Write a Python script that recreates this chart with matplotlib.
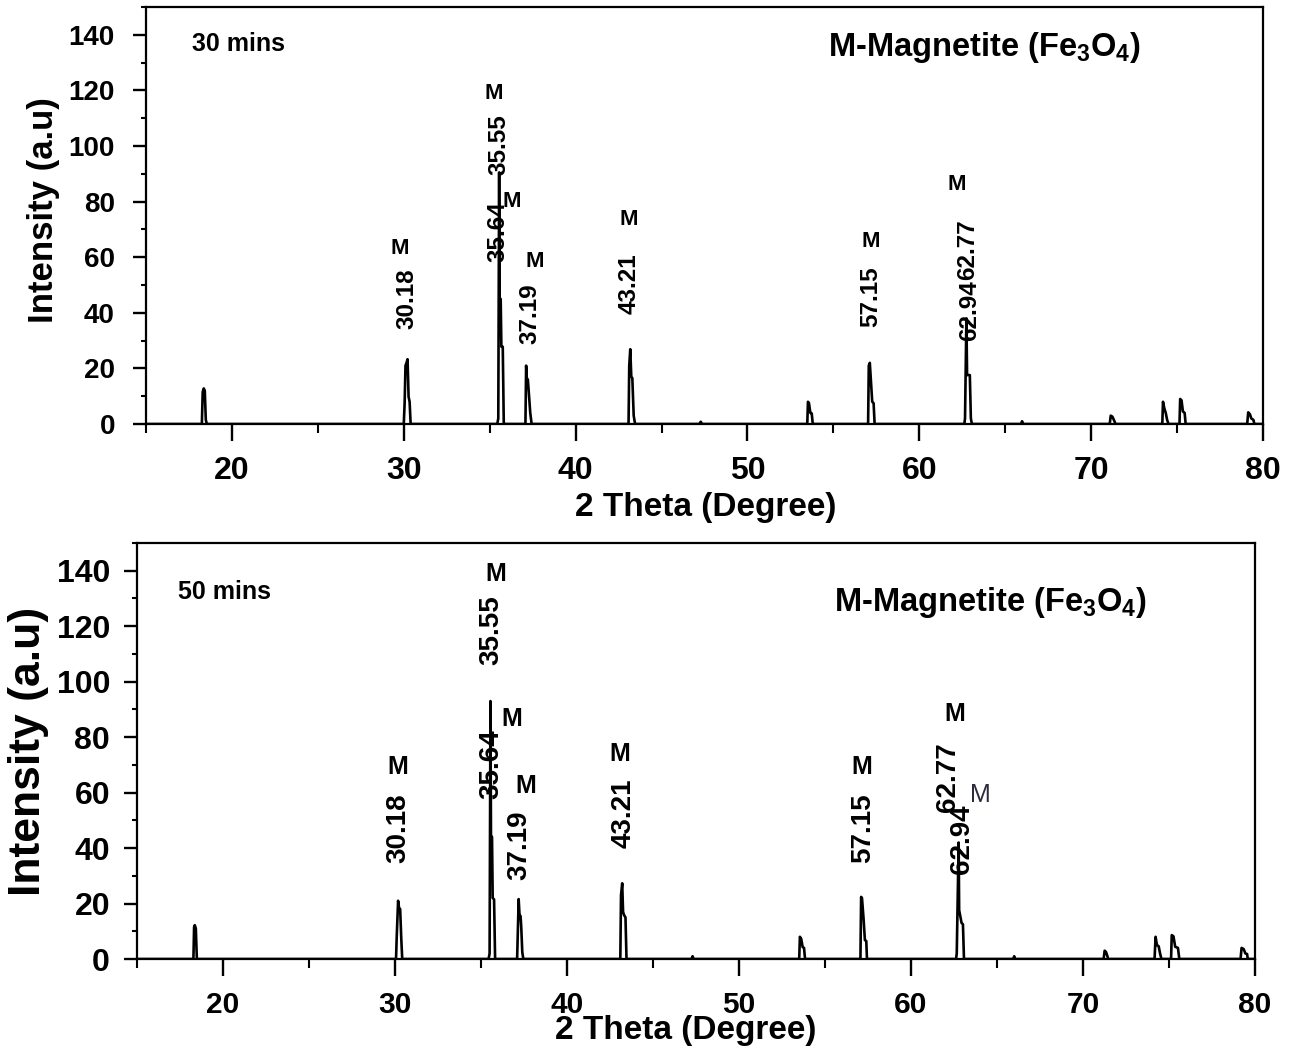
import matplotlib
matplotlib.use("Agg")
import matplotlib.pyplot as plt
from matplotlib.ticker import MultipleLocator

plt.rcParams["mathtext.fontset"] = "custom"
plt.rcParams["mathtext.rm"] = "Liberation Sans:bold"
plt.rcParams["mathtext.it"] = "Liberation Sans:bold"
plt.rcParams["mathtext.bf"] = "Liberation Sans:bold"

FONT = ["Liberation Sans", "DejaVu Sans"]

# XRD profile, 30 min sample (2 theta in degree, intensity in a.u.)
two_theta_30 = [15.00,
                18.25, 18.30, 18.36, 18.42, 18.48, 18.54,
                30.00, 30.05, 30.10, 30.16, 30.22, 30.28, 30.34, 30.40,
                35.44, 35.50, 35.55, 35.58, 35.64, 35.68, 35.76, 35.82,
                37.08, 37.12, 37.16, 37.22, 37.28, 37.36, 37.44,
                43.08, 43.12, 43.18, 43.24, 43.30, 43.38, 43.46,
                47.20, 47.28, 47.36,
                53.48, 53.52, 53.58, 53.66, 53.74, 53.80,
                57.02, 57.06, 57.12, 57.20, 57.26, 57.34, 57.40,
                62.62, 62.66, 62.74, 62.78, 62.94, 63.00, 63.06,
                65.92, 65.98, 66.04,
                71.08, 71.14, 71.24, 71.34, 71.42,
                74.14, 74.18, 74.26, 74.34, 74.42, 74.50,
                75.14, 75.18, 75.26, 75.34, 75.44, 75.50,
                79.08, 79.14, 79.24, 79.32, 79.44, 79.50,
                80.00]
intensity_30 = [0,
                0, 11.5, 12.8, 12.0, 1.5, 0,
                0, 7.5, 21.0, 22.0, 23.3, 9.8, 8.0, 0,
                0, 2.0, 90.5, 45.0, 45.0, 27.8, 27.8, 0,
                0, 21.0, 16.4, 16.0, 11.0, 4.0, 0,
                0, 21.0, 26.9, 17.0, 16.5, 3.0, 0,
                0, 0.8, 0,
                0, 8.0, 7.5, 4.0, 3.8, 0,
                0, 21.0, 22.0, 14.0, 8.0, 7.5, 0,
                0, 2.0, 38.0, 17.6, 17.6, 2.0, 0,
                0, 1.0, 0,
                0, 3.0, 2.6, 1.2, 0,
                0, 8.0, 5.6, 4.0, 1.5, 0,
                0, 9.0, 8.5, 4.5, 4.0, 0,
                0, 4.2, 3.5, 2.0, 1.5, 0,
                0]

# XRD profile, 50 min sample
two_theta_50 = [15.00,
                18.28, 18.32, 18.36, 18.42, 18.48,
                30.06, 30.10, 30.18, 30.24, 30.30, 30.36, 30.42,
                35.44, 35.50, 35.55, 35.58, 35.64, 35.68, 35.76, 35.82,
                37.10, 37.19, 37.24, 37.30, 37.34, 37.40, 37.46,
                43.10, 43.14, 43.21, 43.26, 43.32, 43.40, 43.46,
                47.24, 47.30, 47.36,
                53.50, 53.54, 53.62, 53.70, 53.78, 53.84,
                57.06, 57.10, 57.15, 57.24, 57.32, 57.40, 57.44,
                62.62, 62.66, 62.77, 62.80, 62.94, 63.02, 63.08,
                65.94, 66.00, 66.06,
                71.20, 71.26, 71.34, 71.42, 71.46,
                74.16, 74.22, 74.30, 74.40, 74.48, 74.56,
                75.12, 75.16, 75.26, 75.36, 75.52, 75.60,
                79.16, 79.22, 79.34, 79.44, 79.54, 79.58,
                80.00]
intensity_50 = [0,
                0, 11.6, 12.2, 11.0, 0,
                0, 8.0, 21.0, 18.3, 18.0, 8.0, 0,
                0, 2.0, 93.0, 44.6, 44.0, 22.0, 21.5, 0,
                0, 21.6, 15.8, 15.5, 11.5, 2.5, 0,
                0, 23.0, 27.3, 17.0, 15.8, 15.0, 0,
                0, 1.0, 0,
                0, 8.0, 7.2, 4.3, 4.0, 0,
                0, 22.4, 22.0, 14.7, 6.8, 6.5, 0,
                0, 2.0, 42.0, 17.6, 13.0, 12.5, 0,
                0, 1.0, 0,
                0, 3.0, 2.5, 1.0, 0,
                0, 8.0, 5.0, 4.6, 2.0, 0,
                0, 8.6, 8.2, 4.4, 4.0, 0,
                0, 4.0, 3.6, 2.0, 1.8, 0,
                0]

peak_labels = ["30.18", "35.55", "35.64", "37.19", "43.21", "57.15", "62.77", "62.94"]

# where the rotated peak values and the "M" markers sit, per panel
num_x_30 = [30.20, 35.56, 35.51, 37.32, 43.10, 57.20, 62.80, 62.95]
num_y_30 = [45.0, 100.4, 69.2, 39.6, 50.4, 45.7, 62.6, 40.8]
m_x_30 = [29.79, 35.24, 36.28, 37.63, 43.10, 57.18, 62.19]
m_y_30 = [63.3, 119.0, 80.0, 58.4, 73.4, 65.6, 86.0]

num_x_50 = [30.19, 35.62, 35.62, 37.25, 43.28, 57.22, 62.15, 62.96]
num_y_50 = [47.1, 118.6, 70.2, 41.0, 52.5, 47.1, 65.5, 43.2]
m_x_50 = [30.16, 35.83, 36.77, 37.60, 43.08, 57.13, 62.53]
m_y_50 = [69.2, 139.0, 86.6, 62.3, 74.0, 69.2, 88.4]


def style_axes(ax, xtick_size, ytick_size, ypad):
    ax.set_xlim(15, 80)
    ax.set_ylim(0, 150)
    ax.set_xticks([20, 30, 40, 50, 60, 70, 80])
    ax.set_yticks([0, 20, 40, 60, 80, 100, 120, 140])
    ax.xaxis.set_minor_locator(MultipleLocator(5))
    ax.yaxis.set_minor_locator(MultipleLocator(10))
    for s in ax.spines.values():
        s.set_linewidth(1.6)
    ax.tick_params(axis="x", which="major", direction="out", length=12, width=1.7, pad=11)
    ax.tick_params(axis="x", which="minor", direction="out", length=6.5, width=1.5)
    ax.tick_params(axis="y", which="major", direction="out", length=9.4, width=1.7, pad=ypad)
    ax.tick_params(axis="y", which="minor", direction="out", length=3.6, width=1.5)
    for lbl in ax.get_xticklabels():
        lbl.set_fontfamily(FONT)
        lbl.set_fontweight("bold")
        lbl.set_fontsize(xtick_size)
    for lbl in ax.get_yticklabels():
        lbl.set_fontfamily(FONT)
        lbl.set_fontweight("bold")
        lbl.set_fontsize(ytick_size)


def draw_panel(ax, x, y, time_label, nx, ny, mx, my, num_size, m_size,
               ylab_size, title_xy, time_xy):
    ax.plot(x, y, color="black", lw=1.9)
    for lab, px, py in zip(peak_labels, nx, ny):
        ax.text(px, py, lab, rotation=90, ha="center", va="center",
                fontsize=num_size, fontweight="bold", family=FONT)
    for px, py in zip(mx, my):
        ax.text(px, py, "M", ha="center", va="center",
                fontsize=m_size, fontweight="bold", family=FONT)
    ax.text(time_xy[0], time_xy[1], time_label, ha="left", va="center",
            fontsize=18, fontweight="bold", family=FONT)
    ax.text(title_xy[0], title_xy[1], r"M-Magnetite (Fe$_3$O$_4$)", ha="left",
            va="center", fontsize=23.5, fontweight="bold", family=FONT)
    ax.set_xlabel("2 Theta (Degree)", fontsize=24, fontweight="bold", family=FONT)
    ax.set_ylabel("Intensity (a.u)", fontsize=ylab_size, fontweight="bold", family=FONT)
    ax.xaxis.label.set_va("center")
    ax.yaxis.label.set_va("center")


fig = plt.figure(figsize=(12.9, 10.52), dpi=100)
ax1 = fig.add_axes([0.11318, 0.59696, 0.86589, 0.39639])
ax2 = fig.add_axes([0.10620, 0.08840, 0.86667, 0.39544])

style_axes(ax1, 23, 20, 13)
style_axes(ax2, 21.5, 23, 10)

draw_panel(ax1, two_theta_30, intensity_30, "30 mins", num_x_30, num_y_30,
           m_x_30, m_y_30, 17.5, 16, 25, (54.7, 135.5), (17.65, 136.7))
draw_panel(ax2, two_theta_50, intensity_50, "50 mins", num_x_50, num_y_50,
           m_x_50, m_y_50, 20, 18, 32, (55.55, 128.6), (17.4, 132.5))

# extra lighter "M" tag beside the 62.94 reflection
ax2.text(64.05, 59, "M", ha="center", va="center", fontsize=18,
         family=FONT, color="#2b2b3b")

ax1.xaxis.set_label_coords(0.5013, -0.2014)
ax1.yaxis.set_label_coords(-0.0922, 0.513)
ax2.xaxis.set_label_coords(0.491, -0.1707)
ax2.yaxis.set_label_coords(-0.097, 0.499)

fig.savefig("out.png", dpi=100)
